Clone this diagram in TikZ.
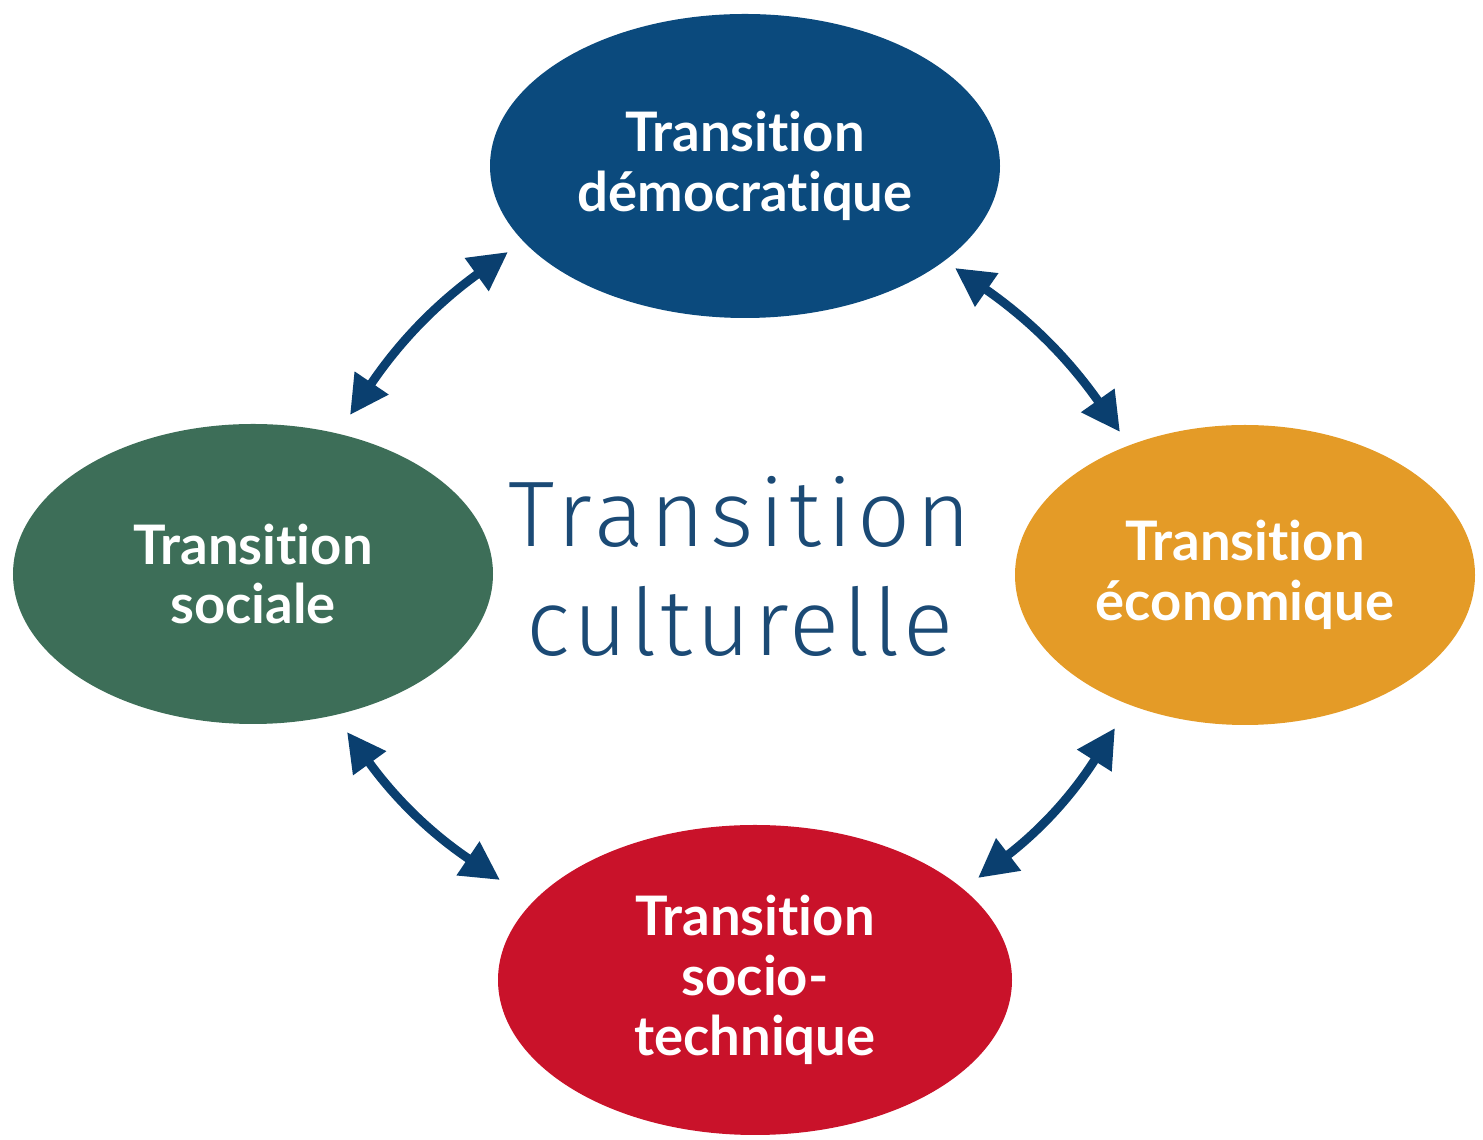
\documentclass[tikz,border=0pt]{standalone}
\usepackage{fontspec}
\setmainfont[Ligatures=NoCommon]{Lato}
\newfontfamily\ctrfont[LetterSpace=6]{Fira Sans Light}
\newfontfamily\ctrfontb[LetterSpace=4]{Fira Sans Light}
\usetikzlibrary{shapes.geometric,arrows.meta}
\definecolor{cblue}{HTML}{0B4A7D}
\definecolor{cgreen}{HTML}{3D6E58}
\definecolor{corange}{HTML}{E49B27}
\definecolor{cred}{HTML}{C9122A}
\definecolor{carrow}{HTML}{0A3F6F}
\definecolor{ctext}{HTML}{1B4A75}
\tikzset{
  blob/.style={ellipse, inner sep=0pt, text=white, align=center,
    font=\fontsize{15.5}{16}\selectfont\bfseries},
  link/.style={carrow, line width=2.5pt, {Triangle[length=11pt,width=11pt]}-{Triangle[length=11pt,width=11pt]}, bend left=10}
}
\begin{document}
\begin{tikzpicture}
\useasboundingbox (0,0) rectangle (14.83,11.40);
\node[blob, fill=cblue, minimum width=5.10cm, minimum height=3.04cm] (top) at (7.45,9.74) {Transition\\[1pt]démocratique};
\node[blob, fill=cgreen, minimum width=4.80cm, minimum height=3.00cm] (left) at (2.53,5.66) {Transition\\[1pt]sociale};
\node[blob, fill=corange, minimum width=4.60cm, minimum height=3.00cm] (right) at (12.45,5.65) {Transition\\[1pt]économique};
\node[blob, fill=cred, minimum width=5.14cm, minimum height=3.10cm] (bottom) at (7.55,1.60) {Transition\\[1pt]socio-\\[1pt]technique};
\node[text=ctext, align=center, font=\fontsize{26.5}{31}\selectfont] (center) at (7.40,5.74) {{\ctrfont Transition}\\{\ctrfontb culturelle}};
\coordinate (tl1) at (3.50,7.25);
\coordinate (tl2) at (5.08,8.88);
\coordinate (tr1) at (9.55,8.72);
\coordinate (tr2) at (11.20,7.08);
\coordinate (br1) at (11.15,4.12);
\coordinate (br2) at (9.78,2.62);
\coordinate (bl1) at (5.00,2.60);
\coordinate (bl2) at (3.47,4.08);
\draw[link] (tl1) to (tl2);
\draw[link] (tr1) to (tr2);
\draw[link] (br1) to (br2);
\draw[link] (bl1) to (bl2);
\end{tikzpicture}
\end{document}
